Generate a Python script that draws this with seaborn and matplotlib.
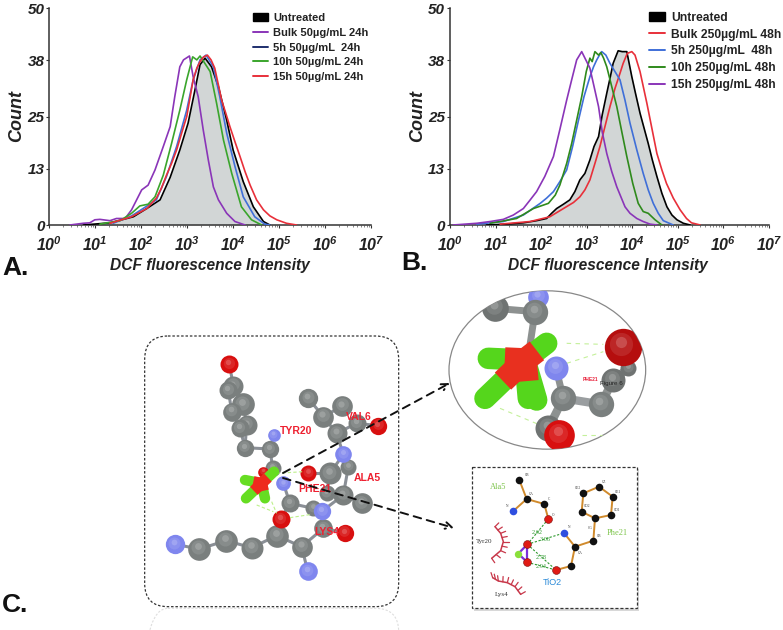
import numpy as np
import matplotlib
matplotlib.use("Agg")
import matplotlib.pyplot as plt
from matplotlib.patches import FancyBboxPatch, Ellipse, Rectangle, Patch
from matplotlib.lines import Line2D
import seaborn as sns
import pandas as pd

sns.set_theme(style="white")
plt.rcParams['font.family'] = ['Liberation Sans', 'DejaVu Sans']
plt.rcParams['mathtext.fontset'] = 'custom'
plt.rcParams['mathtext.bf'] = 'Liberation Sans:italic:bold'
plt.rcParams['mathtext.rm'] = 'Liberation Sans:italic:bold'

W, H = 783, 630

# ---------- histogram data: log10(intensity), count ----------
a_untreated_log = [.74,1.32,1.83,2.12,2.41,2.63,2.84,3.02,3.17,3.28,3.39,3.53,3.68,3.86,4.00,4.22,4.44,4.66,4.80]
a_untreated_cnt = [0,.5,1.9,3.8,5.8,11,17.3,23.5,31.2,37,38.5,36.5,31.9,24.2,17.3,10,4.2,.8,0]
a_bulk_log = [.45,.74,.88,.99,1.10,1.32,1.46,1.65,1.79,1.90,2.01,2.15,2.30,2.48,2.63,2.73,2.84,2.92,3.05,3.13,3.24,3.35,3.46,3.57,3.68,3.86,4.04,4.26]
a_bulk_cnt = [0,.4,.5,1.2,1.3,1.0,1.5,1.5,3.5,5.8,8.1,9.2,12.7,18.1,22.7,29.6,36.5,38.1,39,34.2,29.6,21.9,15,8.8,5.8,2.7,.8,0]
a_5h_log = [1.39,1.79,2.04,2.33,2.55,2.77,2.99,3.13,3.28,3.41,3.57,3.71,3.86,4.04,4.22,4.47,4.69,4.80]
a_5h_cnt = [.4,2.1,3.8,5.8,11.2,18.1,26.5,33.5,38.1,39.2,36.5,29.6,21.2,13.5,6.5,1.9,.2,0]
a_10h_log = [1.10,1.54,1.79,1.97,2.15,2.30,2.48,2.66,2.84,2.99,3.12,3.21,3.28,3.36,3.50,3.64,3.79,3.97,4.18,4.40,4.62]
a_10h_cnt = [.2,1.0,2.7,4.4,4.8,6.5,11.5,18.8,26.5,33.5,38.8,38.1,39,37.7,35.4,28.1,19.6,11.9,4.2,1.2,0]
a_15h_log = [1.32,1.79,2.12,2.33,2.44,2.55,2.66,2.77,2.88,2.99,3.06,3.13,3.21,3.28,3.36,3.44,3.52,3.60,3.68,3.75,3.84,3.93,4.04,4.15,4.26,4.37,4.51,4.66,4.80,4.95,5.16,5.38]
a_15h_cnt = [.4,1.9,3.8,6.2,8.5,11.5,14.2,17.3,21.2,25,29.2,33.5,36.2,37.7,38.8,39.2,38.1,36.2,32.3,28.8,25.8,22.7,19.2,15.8,12.3,9.2,5.8,3.5,2.1,1.2,.4,0]

b_untreated_log = [.80,1.24,1.61,1.90,2.12,2.23,2.34,2.49,2.63,2.74,2.85,2.96,3.07,3.16,3.26,3.34,3.44,3.51,3.58,3.69,3.78,3.88,3.99,4.07,4.17,4.26,4.35,4.44,4.54,4.65,4.76,4.87,4.98,5.12,5.27]
b_untreated_cnt = [0,.2,.5,1,1.5,2.7,3.8,4.8,5.8,7.7,10.4,11.9,15,18.1,20.4,25.4,30.4,33.8,37.3,40.2,40,40,34.2,30.4,25.8,22.3,18.8,15,11.2,7.3,4.2,2.3,1.2,.4,0]
b_bulk_log = [1.10,1.76,2.19,2.49,2.71,2.85,2.96,3.07,3.18,3.29,3.40,3.51,3.62,3.73,3.80,3.89,3.99,4.06,4.17,4.32,4.43,4.54,4.65,4.75,4.90,5.05,5.19,5.30,5.49]
b_bulk_cnt = [.2,.8,1.9,3.8,5.2,6.5,8.1,10.4,14.2,18.1,22.7,27.3,31.5,35,37.3,39.6,40,39.2,35.4,28.1,22.3,16.5,12.7,9.6,6.2,3.5,1.5,.5,0]
b_5h_log = [.59,1.17,1.61,1.98,2.12,2.27,2.41,2.56,2.69,2.82,2.94,3.07,3.15,3.22,3.28,3.33,3.42,3.51,3.62,3.73,3.84,3.95,4.10,4.24,4.35,4.46,4.57,4.68,4.90]
b_5h_cnt = [.2,.8,2.3,5,6.2,7.7,10,12.7,18.1,24.2,29.6,34.2,36.5,38.1,39.2,40,39.2,37.3,35.4,33.5,28.8,23.5,17.3,11.9,8.1,5,2.7,1,0]
b_10h_log = [.88,1.46,1.83,2.16,2.31,2.41,2.56,2.67,2.78,2.89,2.99,3.07,3.12,3.18,3.26,3.31,3.37,3.44,3.55,3.66,3.77,3.88,4.01,4.13,4.24,4.35,4.50,4.65]
b_10h_cnt = [.4,1.5,3.8,5,6.9,9.2,14.2,18.8,24.2,29.6,35.4,38.5,37.7,40,39.2,39.8,38.5,36.5,31.9,27.3,21.5,15.8,9.6,5,3.1,2.7,1.2,0]
b_15h_log = [.07,.59,.88,1.17,1.39,1.61,1.76,1.90,2.08,2.27,2.41,2.56,2.67,2.78,2.89,2.98,3.07,3.16,3.26,3.34,3.44,3.55,3.66,3.84,3.95,4.10,4.24,4.39,4.54]
b_15h_cnt = [0,.4,.8,1.3,2.3,3.8,5.8,7.7,11.2,15.8,22,28.8,33.5,38.1,40,38.1,36.2,32,27.3,21.5,16.5,12.3,8.8,4.2,2.7,1.5,.8,.2,0]

y_ticks = [0, 13, 25, 38, 50]
x_decades = [0, 1, 2, 3, 4, 5, 6, 7]
a_labels = ["Untreated", "Bulk 50µg/mL 24h", "5h 50µg/mL  24h", "10h 50µg/mL 24h", "15h 50µg/mL 24h"]
b_labels = ["Untreated", "Bulk 250µg/mL 48h", "5h 250µg/mL  48h", "10h 250µg/mL 48h", "15h 250µg/mL 48h"]

PURPLE, BLUE, GREEN, RED = "#8a35b8", "#3f6fd8", "#3aa52c", "#e8303a"

fig = plt.figure(figsize=(W/100, H/100), dpi=100, facecolor="white")

def px_axes(x0, y0, x1, y1, **kw):
    return fig.add_axes([x0/W, 1-y1/H, (x1-x0)/W, (y1-y0)/H], **kw)

def hist_panel(box, untreated, series, labels, handle_colors, legend_xy, legend_size, spacing, xlabel_x):
    ax = px_axes(*box)
    ax.set_facecolor("none")
    ux = 10.0**np.array(untreated[0])
    ax.fill_between(ux, untreated[1], 0, color="#d2d6d6", lw=0, zorder=1)
    frames = [("Untreated", untreated, "black")] + series
    for name, (lg, cnt), col in frames:
        df = pd.DataFrame({"x": 10.0**np.array(lg), "y": cnt})
        sns.lineplot(data=df, x="x", y="y", color=col, lw=1.2, ax=ax,
                     estimator=None, sort=False, errorbar=None, zorder=3)
    ax.set_xscale("log")
    ax.set_xlim(1, 1e7); ax.set_ylim(0, 50)
    ax.set_yticks(y_ticks)
    ax.set_yticklabels([str(v) for v in y_ticks], fontsize=11, fontweight="bold", style="italic", color="#222222")
    ax.set_xticks([10.0**d for d in x_decades])
    ax.set_xticklabels([r"$\mathbf{10^{%d}}$" % d for d in x_decades], fontsize=11.5, color="#222222")
    ax.xaxis.set_minor_locator(matplotlib.ticker.LogLocator(base=10, subs=np.arange(2, 10), numticks=12))
    ax.xaxis.set_minor_formatter(matplotlib.ticker.NullFormatter())
    ax.tick_params(axis="x", which="major", direction="out", length=2, width=.8, color="#333333", pad=5.5, bottom=True)
    ax.tick_params(axis="x", which="minor", direction="out", length=1.2, width=.5, color="#555555", bottom=True)
    ax.tick_params(axis="y", which="major", direction="out", length=2, width=.8, color="#333333", pad=1.5, left=True)
    for s in ("top", "right"):
        ax.spines[s].set_visible(False)
    for s in ("left", "bottom"):
        ax.spines[s].set_color("#333333"); ax.spines[s].set_linewidth(1.1)
    ax.set_xlabel("DCF fluorescence Intensity", fontsize=11.2, fontweight="bold", style="italic", color="#222222")
    ax.xaxis.label.set_verticalalignment("center")
    ax.xaxis.set_label_coords(xlabel_x, -.185)
    ax.set_ylabel("Count", fontsize=13, fontweight="bold", style="italic", color="#222222")
    ax.yaxis.label.set_verticalalignment("center")
    ax.yaxis.set_label_coords(-.103, .505)
    handles = [Patch(facecolor="black", edgecolor="black")] + [Line2D([], [], color=c, lw=1.4) for c in handle_colors]
    ax.legend(handles, labels, loc="upper left", bbox_to_anchor=legend_xy, frameon=False,
              prop={"weight": "bold", "size": legend_size}, labelcolor="#222222",
              handlelength=1.35, handleheight=.75, handletextpad=.45, labelspacing=spacing, borderpad=0, borderaxespad=0)
    return ax

hist_panel((49.3, 8.3, 371, 225), (a_untreated_log, a_untreated_cnt),
           [("Bulk", (a_bulk_log, a_bulk_cnt), PURPLE), ("5h", (a_5h_log, a_5h_cnt), BLUE),
            ("10h", (a_10h_log, a_10h_cnt), GREEN), ("15h", (a_15h_log, a_15h_cnt), RED)],
           a_labels, [PURPLE, "#1e2f6e", GREEN, RED], (.633, .978), 8.0, .43, .5)
hist_panel((450, 8.3, 769, 225), (b_untreated_log, b_untreated_cnt),
           [("Bulk", (b_bulk_log, b_bulk_cnt), RED), ("5h", (b_5h_log, b_5h_cnt), BLUE),
            ("10h", (b_10h_log, b_10h_cnt), "#2f8a1c"), ("15h", (b_15h_log, b_15h_cnt), PURPLE)],
           b_labels, [RED, BLUE, "#2f8a1c", PURPLE], (.624, .985), 8.7, .41, .496)

for txt, x, y in [("A.", 2, 275), ("B.", 401, 270), ("C.", 2, 612)]:
    fig.text(x/W, 1-y/H, txt, fontsize=19, fontweight="bold", color="#111111", va="baseline")

# ---------- molecule sketch, main box (coordinates in a 3x sheet) ----------
GRAY, ATOM_RED, ATOM_BLUE = "#7a7f7e", "#d80f0f", "#7f86ee"

def balls(ax, xs, ys, color, d, scale=3.0, light="white", z=5, clip=None):
    dpt = d / scale * .72
    arts = [ax.scatter(xs, ys, s=dpt**2, color=color, linewidths=0, zorder=z),
            ax.scatter(np.array(xs)-d*.04, np.array(ys)-d*.08, s=(dpt*.62)**2, color=light, alpha=.10, linewidths=0, zorder=z),
            ax.scatter(np.array(xs)-d*.05, np.array(ys)-d*.12, s=(dpt*.3)**2, color=light, alpha=.18, linewidths=0, zorder=z)]
    if clip is not None:
        for a in arts:
            a.set_clip_path(clip)

mol = px_axes(130, 325, 410, 630)
mol.set_xlim(0, 840); mol.set_ylim(915, 0); mol.axis("off"); mol.patch.set_alpha(0)

mol.add_patch(FancyBboxPatch((44, 850), 762, 300, boxstyle="round,pad=0,rounding_size=70",
                             fc="none", ec="#dedede", lw=.8, ls=(0, (2, 1.5))))
mol.add_patch(FancyBboxPatch((44, 33), 762, 812, boxstyle="round,pad=0,rounding_size=70",
                             fc="none", ec="#333333", lw=.9, ls=(0, (2, 1.5))))

mol_bonds = [
    [(298,117),(310,183),(340,238),(350,300),(345,368),(420,372),(428,430),(400,440)],
    [(295,195),(305,260),(330,310),(345,368)],
    [(432,330),(420,372)],
    [(460,475),(480,535),(550,550),(577,558)],
    [(480,535),(452,582)],
    [(135,658),(208,672),(288,647),(365,668),(440,632),(515,665),(533,738)],
    [(440,632),(452,582)],
    [(515,665),(580,610),(645,623)],
    [(577,558),(640,510),(695,535)],
    [(640,510),(590,505),(600,445),(640,388),(620,325),(580,275),(535,220)],
    [(580,275),(637,243)],
    [(620,325),(680,295),(745,302)],
    [(600,445),(535,445)],
    [(640,388),(655,425),(640,510)],
]
for b in mol_bonds:
    xs, ys = zip(*b)
    mol.plot(xs, ys, color="#8a8f96", lw=2.2, zorder=3, solid_capstyle="round")

gray_x = [310,295,340,305,350,330,345,420,428,480,550,600,655,640,590,695,580,620,535,637,680,440,365,288,208,515,580]
gray_y = [183,195,238,260,300,310,368,372,430,535,550,445,425,510,505,535,275,325,220,243,295,632,668,647,672,665,610]
gray_d = [60,54,68,56,60,54,52,52,48,54,48,66,48,60,48,62,62,60,58,62,54,68,66,68,68,62,56]
red_x = [298,745,535,452,645,400]
red_y = [117,302,445,582,623,440]
red_d = [54,52,48,54,52,32]
blue_x = [432,640,460,577,135,533]
blue_y = [330,388,475,558,658,738]
blue_d = [38,50,44,52,58,56]
for x, y, d in zip(gray_x, gray_y, gray_d):
    balls(mol, [x], [y], GRAY, d, z=4)
for x, y, d in zip(red_x, red_y, red_d):
    balls(mol, [x], [y], ATOM_RED, d, z=5)
for x, y, d in zip(blue_x, blue_y, blue_d):
    balls(mol, [x], [y], ATOM_BLUE, d, z=5)

for p, q in [((380,540),(430,560)), ((425,530),(440,565)), ((440,445),(520,440)), ((480,578),(545,568))]:
    mol.plot(*zip(p, q), color="#bdf08a", lw=.8, ls=(0, (3, 2)), zorder=6)

tio_center = (395, 475)
tio_arms = [(345,465), (348,520), (405,520), (432,440)]
for a in tio_arms:
    mol.plot(*zip(tio_center, a), color="#66dd22", lw=7.5, zorder=7, solid_capstyle="round")
for a in tio_arms:
    m = ((tio_center[0]+a[0])/2, (tio_center[1]+a[1])/2)
    mol.plot(*zip(tio_center, m), color="#ee2a1e", lw=8, zorder=8, solid_capstyle="butt")

for txt, x, y in [("TYR20",497,318),("VAL6",685,275),("ALA5",713,460),("PHE21",555,492),("LYS4",590,622)]:
    mol.text(x, y, txt, color="#ee2030", fontsize=7.5, fontweight="bold", ha="center", va="center", zorder=10)

# ---------- zoomed ellipse and LigPlot box (coordinates in a 3x sheet) ----------
ins = px_axes(430, 285, 650, 630)
ins.set_xlim(0, 660); ins.set_ylim(1035, 0); ins.axis("off"); ins.patch.set_alpha(0)

ell = Ellipse((352, 255), 590, 475, fc="white", ec="#888888", lw=.9, zorder=2)
ins.add_patch(ell)

def stick(p, q, color, w, z, cap="round"):
    l, = ins.plot(*zip(p, q), color=color, lw=w, zorder=z, solid_capstyle=cap)
    l.set_clip_path(ell)

for p, q in [((210,370),(330,420)), ((410,175),(520,178)), ((410,235),(520,200)), ((455,450),(520,450))]:
    l, = ins.plot(*zip(p, q), color="#c4f09a", lw=.8, ls=(0, (4, 4)), zorder=3)
    l.set_clip_path(ell)

stick((315,80),(195,70), "#8d9190", 5, 4)
stick((315,80),(300,180), "#8d9190", 5, 4)
stick((378,250),(400,340), "#8d9190", 5, 4)
stick((400,340),(512,358), "#9a9ea0", 6, 4)
stick((400,340),(355,430), "#8d9190", 6, 4)
stick((512,358),(550,285), "#8d9190", 6, 4)
stick((550,285),(595,250), "#8d9190", 6, 4)

balls(ins, [195], [70], "#6f7372", 80, z=4, clip=ell)
balls(ins, [325], [35], ATOM_BLUE, 62, z=4, clip=ell)
balls(ins, [315], [80], GRAY, 76, z=5, clip=ell)
balls(ins, [355], [430], "#6f7372", 78, z=5, clip=ell)
balls(ins, [400], [340], GRAY, 76, z=6, clip=ell)
balls(ins, [512], [358], GRAY, 76, z=6, clip=ell)
balls(ins, [550], [285], "#6f7372", 72, z=5, clip=ell)
balls(ins, [595], [250], "#6f7372", 48, z=4, clip=ell)
balls(ins, [578], [185], "#b50e0e", 112, z=6, clip=ell)
balls(ins, [388], [450], ATOM_RED, 92, z=7, clip=ell)
balls(ins, [378], [250], ATOM_BLUE, 72, z=8, clip=ell)

ti_center = (285, 225)
ti_arms = [(350,175), (175,220), (165,340), (295,340), (320,345)]
for a in ti_arms:
    stick(ti_center, a, "#55d61c", 15.5, 6)
for a in ti_arms[:4]:
    m = (ti_center[0]+.55*(a[0]-ti_center[0]), ti_center[1]+.55*(a[1]-ti_center[1]))
    stick(ti_center, m, "#e8301f", 17, 7, cap="butt")

ins.text(480, 285, "PHE21", color="#e8203a", fontsize=3.5, fontweight="bold", ha="center", va="center", zorder=10)
ins.text(545, 296, "Figure 6", color="#222222", fontsize=4.5, ha="center", va="center", zorder=10)

# LigPlot box
ins.add_patch(Rectangle((132, 553), 495, 425, fc="#aaaaaa", ec="none", alpha=.45, zorder=1))
ins.add_patch(Rectangle((125, 545), 495, 425, fc="white", ec="#333333", lw=.9, ls=(0, (2.5, 1.5)), zorder=2))

lig_bonds = [
    [(268,585),(290,642),(343,657),(355,702)],
    [(290,642),(250,678)],
    [(460,625),(507,605),(548,635),(543,690),(495,700),(455,680),(460,625)],
    [(495,700),(490,767),(435,785),(423,843),(378,855)],
    [(435,785),(402,744)],
]
for b in lig_bonds:
    ins.plot(*zip(*b), color="#d08a2c", lw=1.4, zorder=3)
for b in [[(292,778),(292,832)], [(265,806),(292,778)], [(265,806),(292,832)]]:
    ins.plot(*zip(*b), color="#7a30d8", lw=1.6, zorder=3)
for p, q in [((355,702),(292,778)), ((292,778),(402,744)), ((292,778),(378,855)), ((292,832),(378,855))]:
    ins.plot(*zip(p, q), color="#2f9a2f", lw=.8, ls=(0, (2, 1.5)), zorder=3)

lig_black_x = [268,290,343,460,507,548,543,455,495,490,435,423]
lig_black_y = [585,642,657,625,605,635,690,680,700,767,785,843]
lig_red_x = [355,292,292,378]
lig_red_y = [702,778,832,855]
lig_blue_x = [250,402]
lig_blue_y = [678,744]
sns.scatterplot(x=lig_black_x, y=lig_black_y, color="#111111", s=30, linewidth=0, ax=ins, zorder=5, legend=False)
sns.scatterplot(x=lig_red_x, y=lig_red_y, color="#e01a14", s=32, edgecolor="#7a1010", linewidth=.4, ax=ins, zorder=5, legend=False)
sns.scatterplot(x=lig_blue_x, y=lig_blue_y, color="#2f4fe0", s=30, linewidth=0, ax=ins, zorder=5, legend=False)
sns.scatterplot(x=[265], y=[806], color="#8adf3a", s=28, linewidth=0, ax=ins, zorder=5, legend=False)
ins.set_xlim(0, 660); ins.set_ylim(1035, 0); ins.set_xlabel(""); ins.set_ylabel("")

# hydrophobic arcs: curve points, centre the spokes point away from
arcs = [([(195,725),(212,745),(220,770),(212,797),(185,820)], (150, 770)),
        ([(188,878),(205,888),(232,893),(255,905),(272,928)], (215, 960))]
for pts, centre in arcs:
    pts = np.array(pts, float)
    ins.plot(pts[:, 0], pts[:, 1], color="#c8384a", lw=1.1, zorder=3)
    knots = np.linspace(0, 4, 9)
    fine = np.column_stack([np.interp(knots, range(5), pts[:, i]) for i in (0, 1)])
    for p in fine:
        v = p - np.array(centre, float)
        q = p + v / np.linalg.norm(v) * 16
        ins.plot([p[0], q[0]], [p[1], q[1]], color="#c8384a", lw=.9, zorder=3)

for txt, x, y, col, fs, fam in [
    ("Ala5",205,605,"#7cc44a",6,"Liberation Serif"), ("Phe21",562,745,"#7cc44a",6,"Liberation Serif"),
    ("Tyr20",162,768,"#333333",5,"Liberation Serif"), ("Lys4",215,928,"#333333",5,"Liberation Serif"),
    ("TiO2",368,893,"#2a8ad8",6.5,"Liberation Sans"),
    ("2.62",322,742,"#2f9a2f",4.5,"Liberation Serif"), ("3.06",345,763,"#2f9a2f",4.5,"Liberation Serif"),
    ("2.78",335,817,"#2f9a2f",4.5,"Liberation Serif"), ("2.94",335,845,"#2f9a2f",4.5,"Liberation Serif"),
    ("CB",290,571,"#333333",2.5,"Liberation Serif"), ("CA",305,628,"#333333",2.5,"Liberation Serif"),
    ("C",358,642,"#333333",2.5,"Liberation Serif"), ("O",370,690,"#333333",2.5,"Liberation Serif"),
    ("N",233,663,"#333333",2.5,"Liberation Serif"), ("CE2",445,610,"#333333",2.5,"Liberation Serif"),
    ("CZ",522,590,"#333333",2.5,"Liberation Serif"), ("CE1",565,620,"#333333",2.5,"Liberation Serif"),
    ("CD2",472,664,"#333333",2.5,"Liberation Serif"), ("CD1",560,674,"#333333",2.5,"Liberation Serif"),
    ("CG",480,728,"#333333",2.5,"Liberation Serif"), ("CB",507,752,"#333333",2.5,"Liberation Serif"),
    ("N",418,727,"#333333",2.5,"Liberation Serif"), ("CA",452,803,"#333333",2.5,"Liberation Serif"),
]:
    ins.text(x, y, txt, color=col, fontsize=fs, family=fam, ha="center", va="center", zorder=9)

# ---------- dashed leader arrows, on a sheet in image pixels ----------
top = px_axes(0, 0, W, H)
top.set_xlim(0, W); top.set_ylim(H, 0); top.axis("off"); top.patch.set_alpha(0)
for start, end in [((283, 473), (450, 383)), ((283, 478), (454, 528))]:
    top.annotate("", xy=end, xytext=start,
                 arrowprops=dict(arrowstyle="->", color="#111111", lw=1.4, ls=(0, (4, 3)), shrinkA=0, shrinkB=0))

fig.savefig("out.png", dpi=100)
